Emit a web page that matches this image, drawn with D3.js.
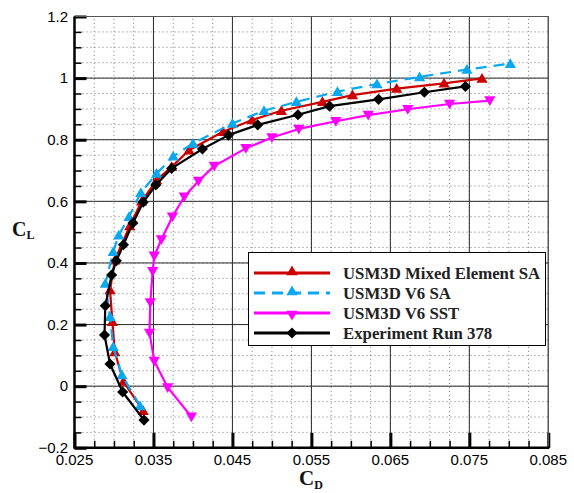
<!DOCTYPE html>
<html>
<head>
<meta charset="utf-8">
<script src="https://cdn.jsdelivr.net/npm/d3@7"></script>
<style>
  html, body { margin: 0; padding: 0; background: #fff; }
  svg { display: block; }
</style>
</head>
<body>
<svg id="chart" width="574" height="493"></svg>
<script>
// Drag polar: lift coefficient vs drag coefficient
const cdMixedSA = [0.0337, 0.0312, 0.0301, 0.0298, 0.0295, 0.0301, 0.0320, 0.0335, 0.0354, 0.0373, 0.0395, 0.0438, 0.0475, 0.0512, 0.0564, 0.0602, 0.0658, 0.0718, 0.0766];
const clMixedSA = [-0.080, 0.015, 0.111, 0.209, 0.312, 0.409, 0.520, 0.600, 0.669, 0.712, 0.766, 0.826, 0.864, 0.894, 0.923, 0.945, 0.966, 0.983, 0.999];

const cdV6SA = [0.0333, 0.0310, 0.0299, 0.0295, 0.0289, 0.0299, 0.0306, 0.0319, 0.0334, 0.0354, 0.0375, 0.0400, 0.0450, 0.0490, 0.0531, 0.0583, 0.0633, 0.0687, 0.0747, 0.0802];
const clV6SA = [-0.064, 0.036, 0.128, 0.225, 0.333, 0.436, 0.490, 0.550, 0.628, 0.690, 0.746, 0.788, 0.853, 0.894, 0.923, 0.956, 0.981, 1.004, 1.028, 1.047];

const cdV6SST = [0.0398, 0.0368, 0.0351, 0.0345, 0.0346, 0.0349, 0.0351, 0.0360, 0.0374, 0.0389, 0.0407, 0.0427, 0.0467, 0.0500, 0.0534, 0.0581, 0.0622, 0.0672, 0.0725, 0.0776];
const clV6SST = [-0.099, -0.004, 0.082, 0.173, 0.272, 0.373, 0.423, 0.476, 0.550, 0.615, 0.666, 0.715, 0.772, 0.807, 0.835, 0.860, 0.880, 0.899, 0.916, 0.927];

const cdExp = [0.0338, 0.0311, 0.0295, 0.0288, 0.0289, 0.0297, 0.0303, 0.0312, 0.0324, 0.0337, 0.0353, 0.0373, 0.0412, 0.0445, 0.0482, 0.0533, 0.0573, 0.0635, 0.0693, 0.0745];
const clExp = [-0.110, -0.019, 0.072, 0.166, 0.261, 0.361, 0.407, 0.459, 0.530, 0.597, 0.653, 0.707, 0.770, 0.815, 0.848, 0.881, 0.909, 0.931, 0.954, 0.973];

const seriesNames = ["USM3D Mixed Element SA", "USM3D V6 SA", "USM3D V6 SST", "Experiment Run 378"];

const xTicks = [0.025, 0.035, 0.045, 0.055, 0.065, 0.075, 0.085];
const yTicks = [-0.2, 0, 0.2, 0.4, 0.6, 0.8, 1.0, 1.2];

const svg = d3.select("#chart");

const x = d3.scaleLinear().domain([0.025, 0.085]).range([74.5, 548.3]);
const y = d3.scaleLinear().domain([-0.2, 1.2]).range([447.8, 16.5]);

const [x0, x1] = x.range();
const [y0, y1] = y.range();

// minor dotted grid
const xMinor = d3.range(0, 25).map(i => 0.025 + i * 0.0025).filter(v => v > 0.0251 && v < 0.0849);
const yMinor = d3.range(0, 29).map(i => -0.2 + i * 0.05).filter(v => v > -0.199 && v < 1.199);
const grid = svg.append("g");
grid.selectAll("line.mx").data(xMinor).join("line")
  .attr("x1", d => x(d)).attr("x2", d => x(d)).attr("y1", y0).attr("y2", y1)
  .attr("stroke", "#777").attr("stroke-width", 1).attr("stroke-dasharray", "1,3");
grid.selectAll("line.my").data(yMinor).join("line")
  .attr("y1", d => y(d)).attr("y2", d => y(d)).attr("x1", x0).attr("x2", x1)
  .attr("stroke", "#777").attr("stroke-width", 1).attr("stroke-dasharray", "1,3");

// major solid grid
grid.selectAll("line.gx").data(xTicks.slice(1)).join("line")
  .attr("x1", d => x(d)).attr("x2", d => x(d)).attr("y1", y0).attr("y2", y1)
  .attr("stroke", "#2a2a2a").attr("stroke-width", 1);
grid.selectAll("line.gy").data(yTicks.slice(1)).join("line")
  .attr("y1", d => y(d)).attr("y2", d => y(d)).attr("x1", x0).attr("x2", x1)
  .attr("stroke", "#2a2a2a").attr("stroke-width", 1);

// axes with inward ticks
const xAxisMajor = d3.axisTop(x).tickValues(xTicks).tickSize(15).tickFormat("");
const xAxisMinor = d3.axisTop(x).tickValues(xMinor).tickSize(7).tickFormat("");
const yAxisMajor = d3.axisRight(y).tickValues(yTicks).tickSize(12).tickFormat("");
const yAxisMinor = d3.axisRight(y).tickValues(yMinor).tickSize(7).tickFormat("");

function styleAxis(g, w) {
  g.select(".domain").remove();
  g.selectAll(".tick line").attr("stroke", "#000").attr("stroke-width", w);
}
svg.append("g").attr("transform", `translate(0,${y0})`).call(xAxisMinor).call(g => styleAxis(g, 1.5));
svg.append("g").attr("transform", `translate(0,${y0})`).call(xAxisMajor).call(g => styleAxis(g, 3));
svg.append("g").attr("transform", `translate(${x0},0)`).call(yAxisMinor).call(g => styleAxis(g, 1.5));
svg.append("g").attr("transform", `translate(${x0},0)`).call(yAxisMajor).call(g => styleAxis(g, 3));

// frame
svg.append("line").attr("x1", x0).attr("x2", x1).attr("y1", y1).attr("y2", y1).attr("stroke", "#555").attr("stroke-width", 1.2);
svg.append("line").attr("x1", x1).attr("x2", x1).attr("y1", y0).attr("y2", y1).attr("stroke", "#555").attr("stroke-width", 1.2);
svg.append("line").attr("x1", x0).attr("x2", x1 + 1).attr("y1", y0).attr("y2", y0).attr("stroke", "#000").attr("stroke-width", 2.5);
svg.append("line").attr("x1", x0).attr("x2", x0).attr("y1", y0 + 1).attr("y2", y1).attr("stroke", "#000").attr("stroke-width", 2.5);

// tick labels
const tickFont = "'Liberation Sans', Arial, Helvetica, sans-serif";
svg.append("g").selectAll("text").data(xTicks).join("text")
  .attr("x", d => x(d)).attr("y", 465)
  .attr("text-anchor", "middle").attr("font-family", tickFont).attr("font-size", 15)
  .attr("fill", "#000").text(d => d3.format(".3f")(d));
svg.append("g").selectAll("text").data(yTicks).join("text")
  .attr("x", 68).attr("y", d => y(d) + 5.3)
  .attr("text-anchor", "end").attr("font-family", tickFont).attr("font-size", 15)
  .attr("fill", "#000").text(d => d3.format("~g")(d));

// axis titles
const serif = "'Liberation Serif', 'Times New Roman', Times, serif";
const yTitle = svg.append("text").attr("x", 12).attr("y", 236)
  .attr("font-family", serif).attr("font-weight", "bold").attr("font-size", 20).attr("fill", "#111");
yTitle.append("tspan").text("C");
yTitle.append("tspan").attr("font-size", 12).attr("dy", 3).text("L");
const xTitle = svg.append("text").attr("x", 299).attr("y", 485)
  .attr("font-family", serif).attr("font-weight", "bold").attr("font-size", 21).attr("fill", "#111");
xTitle.append("tspan").text("C");
xTitle.append("tspan").attr("font-size", 12).attr("dy", 4).text("D");

// series
const triUp = d3.symbol().type(d3.symbolTriangle).size(55);
const diamond = d3.symbol().type(d3.symbolSquare).size(62);

const series = [
  { name: seriesNames[0], cd: cdMixedSA, cl: clMixedSA, color: "#cc0000", dash: null, marker: "up" },
  { name: seriesNames[1], cd: cdV6SA, cl: clV6SA, color: "#0aa8f0", dash: "11,7", marker: "up" },
  { name: seriesNames[2], cd: cdV6SST, cl: clV6SST, color: "#ff00ff", dash: null, marker: "down" },
  { name: seriesNames[3], cd: cdExp, cl: clExp, color: "#000000", dash: null, marker: "diamond" }
];

function markerPath(m) { return m === "diamond" ? diamond() : triUp(); }
function markerRot(m) { return m === "down" ? 180 : (m === "diamond" ? 45 : 0); }

const line = d3.line().x(d => x(d[0])).y(d => y(d[1]));

series.forEach(s => {
  const pts = s.cd.map((v, i) => [v, s.cl[i]]);
  const g = svg.append("g");
  g.append("path").attr("d", line(pts)).attr("fill", "none")
    .attr("stroke", s.color).attr("stroke-width", 2.2)
    .attr("stroke-dasharray", s.dash).attr("stroke-linejoin", "round");
  g.selectAll("path.m").data(pts).join("path").attr("class", "m")
    .attr("d", markerPath(s.marker))
    .attr("transform", d => `translate(${x(d[0])},${y(d[1]) + (s.marker === "up" ? 1 : s.marker === "down" ? -1 : 0)}) rotate(${markerRot(s.marker)})`)
    .attr("fill", s.color);
});

// legend
const lg = svg.append("g");
lg.append("rect").attr("x", 248.5).attr("y", 252.5).attr("width", 297).attr("height", 93)
  .attr("fill", "#fff").attr("stroke", "#000").attr("stroke-width", 1);
series.forEach((s, i) => {
  const ly = 273 + i * 20;
  lg.append("line").attr("x1", 254).attr("x2", 330).attr("y1", ly).attr("y2", ly)
    .attr("stroke", s.color).attr("stroke-width", 2.8).attr("stroke-dasharray", s.dash);
  lg.append("path").attr("d", markerPath(s.marker))
    .attr("transform", `translate(292,${ly + (s.marker === "up" ? -1 : s.marker === "down" ? 1 : 0)}) rotate(${markerRot(s.marker)})`)
    .attr("fill", s.color);
  lg.append("text").attr("x", 343).attr("y", ly + 5.8)
    .attr("font-family", serif).attr("font-weight", "bold").attr("font-size", 16.8)
    .attr("fill", "#222").text(s.name);
});
</script>
</body>
</html>
